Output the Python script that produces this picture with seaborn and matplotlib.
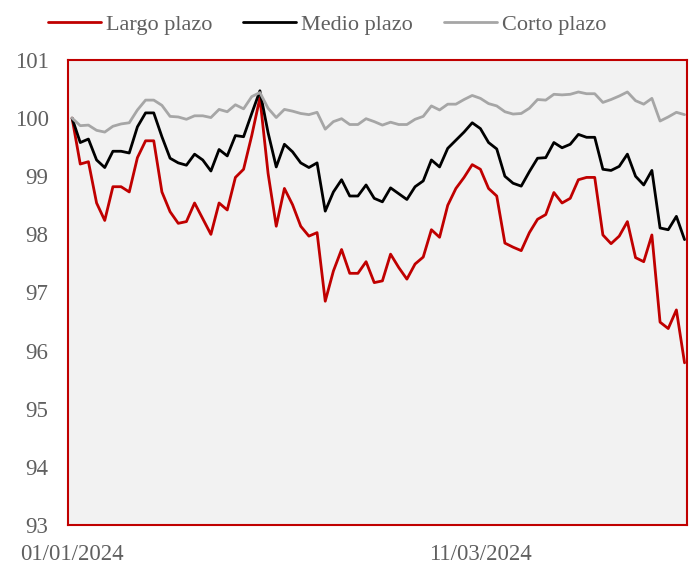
import numpy as np
import pandas as pd
import seaborn as sns
import matplotlib.pyplot as plt

# business days, 01/01/2024 .. 15/04/2024
fechas = pd.bdate_range('2024-01-01', periods=76)

largo = [100.00, 99.21, 99.25, 98.54, 98.24, 98.82, 98.82, 98.73, 99.32, 99.61,
         99.61, 98.73, 98.39, 98.19, 98.22, 98.54, 98.27, 98.00, 98.54, 98.42,
         98.98, 99.12, 99.70, 100.35, 99.05, 98.14, 98.79, 98.51, 98.14, 97.97,
         98.03, 96.85, 97.37, 97.74, 97.33, 97.33, 97.53, 97.17, 97.20, 97.66,
         97.43, 97.23, 97.49, 97.61, 98.08, 97.95, 98.50, 98.79, 98.98, 99.20,
         99.12, 98.79, 98.66, 97.85, 97.78, 97.72, 98.03, 98.26, 98.34, 98.72,
         98.54, 98.62, 98.94, 98.98, 98.98, 97.99, 97.84, 97.97, 98.22, 97.60,
         97.53, 97.99, 96.49, 96.38, 96.70, 95.79]

medio = [100.00, 99.58, 99.64, 99.28, 99.15, 99.43, 99.43, 99.40, 99.85, 100.09,
         100.09, 99.68, 99.31, 99.23, 99.19, 99.38, 99.28, 99.09, 99.46, 99.35,
         99.70, 99.68, 100.08, 100.47, 99.75, 99.16, 99.55, 99.42, 99.23, 99.15,
         99.23, 98.40, 98.73, 98.94, 98.66, 98.66, 98.85, 98.62, 98.56, 98.80,
         98.70, 98.60, 98.82, 98.92, 99.28, 99.16, 99.48, 99.62, 99.76, 99.92,
         99.82, 99.58, 99.47, 99.00, 98.88, 98.83, 99.08, 99.31, 99.32, 99.58,
         99.49, 99.55, 99.72, 99.67, 99.67, 99.12, 99.10, 99.17, 99.38, 99.00,
         98.85, 99.10, 98.11, 98.08, 98.31, 97.91]

corto = [100.00, 99.87, 99.88, 99.79, 99.76, 99.86, 99.90, 99.92, 100.14, 100.31,
         100.31, 100.22, 100.03, 100.02, 99.98, 100.04, 100.04, 100.01, 100.15, 100.11,
         100.23, 100.16, 100.37, 100.44, 100.17, 100.01, 100.15, 100.12, 100.08, 100.06,
         100.10, 99.81, 99.94, 99.99, 99.89, 99.89, 99.99, 99.94, 99.88, 99.93,
         99.89, 99.89, 99.98, 100.03, 100.21, 100.14, 100.24, 100.24, 100.32, 100.39,
         100.34, 100.25, 100.21, 100.11, 100.07, 100.08, 100.17, 100.32, 100.31, 100.41,
         100.40, 100.41, 100.45, 100.42, 100.42, 100.27, 100.32, 100.38, 100.45, 100.30,
         100.24, 100.34, 99.95, 100.02, 100.10, 100.06]

series = ['Largo plazo', 'Medio plazo', 'Corto plazo']
colores = ['#c00000', '#000000', '#a6a6a6']
ticks_x = ['01/01/2024', '11/03/2024']
ticks_y = list(range(93, 102))

df = pd.DataFrame({'pos': np.arange(len(fechas)),
                   'Largo plazo': largo, 'Medio plazo': medio, 'Corto plazo': corto})
df = df.melt(id_vars='pos', var_name='serie', value_name='valor')

sns.set_style('white')
plt.rcParams['font.family'] = ['Liberation Serif', 'DejaVu Serif']

fig = plt.figure(figsize=(6.97, 5.65), dpi=100)
ax = fig.add_axes([68 / 697, 40 / 565, 619 / 697, 465 / 565])

sns.lineplot(data=df, x='pos', y='valor', hue='serie', hue_order=series,
             palette=dict(zip(series, colores)), linewidth=2.0, ax=ax)

ax.set_facecolor('#f2f2f2')
for s in ax.spines.values():
    s.set_color('#c00000')
    s.set_linewidth(1.5)

ax.set_ylim(93, 101)
ax.set_yticks(ticks_y)
ax.set_xlim(-0.5, 75.3)
etiquetas = list(fechas.strftime('%d/%m/%Y'))
ax.set_xticks([etiquetas.index(t) for t in ticks_x])
ax.set_xticklabels(ticks_x)
ax.tick_params(axis='both', length=0, labelsize=16.5, labelcolor='#606060')
ax.tick_params(axis='y', pad=14)
ax.tick_params(axis='x', pad=14)
ax.set_xlabel('')
ax.set_ylabel('')

ax.legend(loc='center', bbox_to_anchor=(0.469, 0.956), bbox_transform=fig.transFigure,
          ncol=3, frameon=False, handlelength=2.4, handletextpad=0.2,
          columnspacing=1.4, fontsize=16, labelcolor='#606060')

fig.savefig('out.png', dpi=100)
